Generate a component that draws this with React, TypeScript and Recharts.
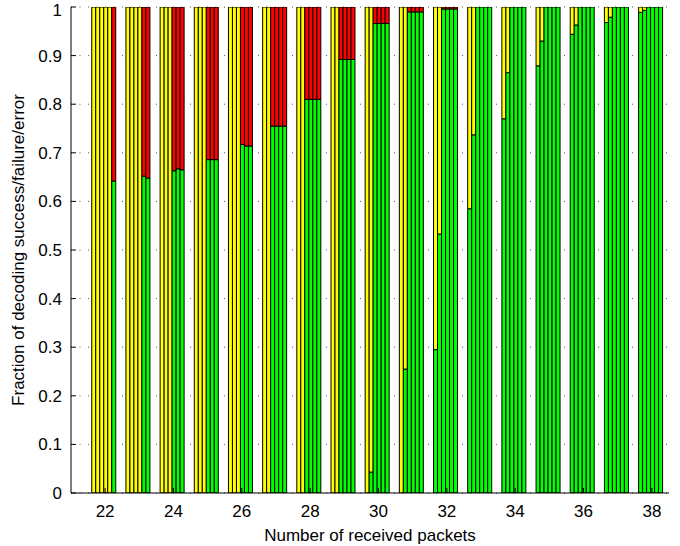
import { BarChart, Bar, XAxis, YAxis, CartesianGrid, Label } from 'recharts'

const packets = [22, 23, 24, 25, 26, 27, 28, 29, 30, 31, 32, 33, 34, 35, 36, 37, 38]

// six runs per packet count, fractions
const success = [
  [0, 0, 0, 0, 0, 0.642],
  [0, 0, 0, 0, 0.652, 0.648],
  [0, 0, 0, 0.663, 0.667, 0.665],
  [0, 0, 0, 0.686, 0.686, 0.686],
  [0, 0, 0, 0.717, 0.714, 0.714],
  [0, 0, 0.755, 0.755, 0.755, 0.755],
  [0, 0, 0.81, 0.81, 0.81, 0.81],
  [0, 0, 0.892, 0.892, 0.892, 0.892],
  [0, 0.043, 0.966, 0.966, 0.966, 0.966],
  [0, 0.255, 0.99, 0.99, 0.99, 0.99],
  [0.295, 0.533, 0.996, 0.996, 0.996, 0.996],
  [0.585, 0.737, 1, 1, 1, 1],
  [0.77, 0.865, 1, 1, 1, 1],
  [0.879, 0.93, 1, 1, 1, 1],
  [0.944, 0.963, 1, 1, 1, 1],
  [0.968, 0.979, 1, 1, 1, 1],
  [0.989, 0.993, 1, 1, 1, 1],
]

const failure = [
  [1, 1, 1, 1, 1, 0],
  [1, 1, 1, 1, 0, 0],
  [1, 1, 1, 0, 0, 0],
  [1, 1, 1, 0, 0, 0],
  [1, 1, 1, 0, 0, 0],
  [1, 1, 0, 0, 0, 0],
  [1, 1, 0, 0, 0, 0],
  [1, 1, 0, 0, 0, 0],
  [1, 0.957, 0, 0, 0, 0],
  [1, 0.745, 0, 0, 0, 0],
  [0.705, 0.467, 0, 0, 0, 0],
  [0.415, 0.263, 0, 0, 0, 0],
  [0.23, 0.135, 0, 0, 0, 0],
  [0.121, 0.07, 0, 0, 0, 0],
  [0.056, 0.037, 0, 0, 0, 0],
  [0.032, 0.021, 0, 0, 0, 0],
  [0.011, 0.007, 0, 0, 0, 0],
]

const error = [
  [0, 0, 0, 0, 0, 0.358],
  [0, 0, 0, 0, 0.348, 0.352],
  [0, 0, 0, 0.337, 0.333, 0.335],
  [0, 0, 0, 0.314, 0.314, 0.314],
  [0, 0, 0, 0.283, 0.286, 0.286],
  [0, 0, 0.245, 0.245, 0.245, 0.245],
  [0, 0, 0.19, 0.19, 0.19, 0.19],
  [0, 0, 0.108, 0.108, 0.108, 0.108],
  [0, 0, 0.034, 0.034, 0.034, 0.034],
  [0, 0, 0.01, 0.01, 0.01, 0.01],
  [0, 0, 0.004, 0.004, 0.004, 0.004],
  [0, 0, 0, 0, 0, 0],
  [0, 0, 0, 0, 0, 0],
  [0, 0, 0, 0, 0, 0],
  [0, 0, 0, 0, 0, 0],
  [0, 0, 0, 0, 0, 0],
  [0, 0, 0, 0, 0, 0],
]

const yTicks = [0, 0.1, 0.2, 0.3, 0.4, 0.5, 0.6, 0.7, 0.8, 0.9, 1]
const runs = [0, 1, 2, 3, 4, 5]

const data = packets.map((p, g) => {
  const row: Record<string, number> = { packet: p }
  runs.forEach((i) => {
    row[`s${i}`] = success[g][i]
    row[`f${i}`] = failure[g][i]
    row[`e${i}`] = error[g][i]
  })
  return row
})

const FONT = 'Liberation Sans, Arial, sans-serif'
const tickStyle = { fill: '#000', fontSize: 17, fontFamily: FONT }

export default function App() {
  return (
    <div style={{ position: 'absolute', left: 0, top: 0 }}>
      <BarChart
        width={680}
        height={546}
        data={data}
        margin={{ top: 7, right: 11, bottom: 3, left: 7 }}
        barCategoryGap="11%"
        barGap={0}
      >
        <CartesianGrid horizontal vertical={false} stroke="#555" strokeDasharray="1 7.5" />
        <XAxis
          dataKey="packet"
          type="category"
          interval={1}
          height={50}
          padding={{ left: 17, right: 0 }}
          tickSize={-5}
          tickMargin={17}
          tick={tickStyle}
          axisLine={{ stroke: '#000' }}
          tickLine={{ stroke: '#000' }}
        >
          <Label
            value="Number of received packets"
            position="insideBottom"
            offset={2}
            style={{ fill: '#000', fontSize: 17, fontFamily: FONT }}
          />
        </XAxis>
        <XAxis
          xAxisId="top"
          dataKey="packet"
          orientation="top"
          interval={1}
          height={0}
          padding={{ left: 17, right: 0 }}
          tick={false}
          tickSize={-5}
          axisLine={{ stroke: '#000' }}
          tickLine={{ stroke: '#000' }}
        />
        <YAxis
          type="number"
          domain={[0, 1]}
          ticks={yTicks}
          width={64}
          allowDataOverflow
          tickSize={-5}
          tickMargin={14}
          tick={tickStyle}
          axisLine={{ stroke: '#000' }}
          tickLine={{ stroke: '#000' }}
        >
          <Label
            value="Fraction of decoding success/failure/error"
            angle={-90}
            position="insideLeft"
            offset={11}
            style={{ fill: '#000', fontSize: 17, fontFamily: FONT, textAnchor: 'middle' }}
          />
        </YAxis>
        <YAxis
          yAxisId="right"
          orientation="right"
          type="number"
          domain={[0, 1]}
          ticks={yTicks}
          width={0}
          tick={false}
          tickSize={-5}
          axisLine={{ stroke: '#000' }}
          tickLine={{ stroke: '#000' }}
        />
        {runs.flatMap((i) => [
          <Bar key={`s${i}`} dataKey={`s${i}`} stackId={`r${i}`} fill="#00ff00" stroke="#000" strokeWidth={1} isAnimationActive={false} />,
          <Bar key={`f${i}`} dataKey={`f${i}`} stackId={`r${i}`} fill="#ffff00" stroke="#000" strokeWidth={1} isAnimationActive={false} />,
          <Bar key={`e${i}`} dataKey={`e${i}`} stackId={`r${i}`} fill="#ff0000" stroke="#000" strokeWidth={1} isAnimationActive={false} />,
        ])}
      </BarChart>
    </div>
  )
}
